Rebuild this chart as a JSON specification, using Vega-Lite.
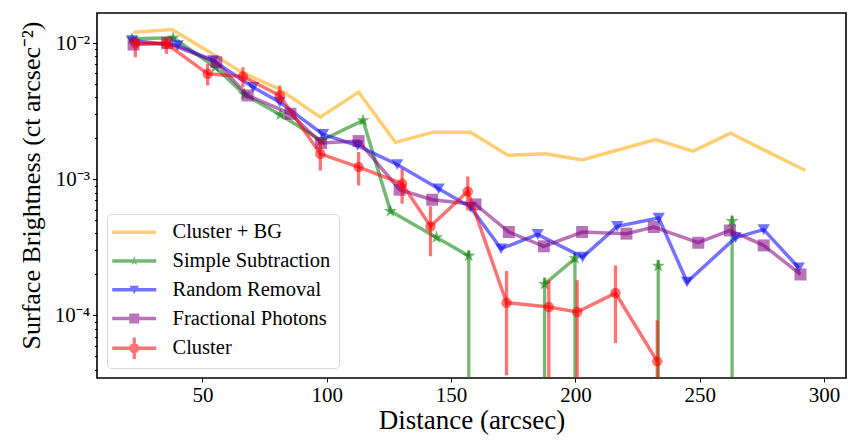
{
  "$schema": "https://vega.github.io/schema/vega-lite/v6.json",
  "width": 749,
  "height": 365,
  "autosize": {"type": "none"},
  "padding": {"left": 97, "top": 13, "right": 2, "bottom": 65},
  "background": "white",
  "config": {
    "view": {"stroke": "black", "strokeWidth": 1.6},
    "font": "Liberation Serif",
    "axis": {"grid": false, "domain": false, "tickColor": "black", "labelColor": "black", "titleColor": "black", "labelFont": "Liberation Serif", "titleFont": "Liberation Serif", "titleFontWeight": "normal"},
    "legend": {
      "orient": "bottom-left", "offset": 10,
      "labelFont": "Liberation Serif", "labelFontSize": 20.5, "labelColor": "black",
      "symbolSize": 144, "symbolOpacity": 0.55, "symbolStrokeWidth": 0,
      "rowPadding": 7.75, "padding": 8, "labelOffset": 28, "symbolOffset": 9,
      "strokeColor": "#d9d9d9", "fillColor": "rgba(255,255,255,0.85)", "cornerRadius": 4
    }
  },
  "datasets": {
    "p": [
      {"s": "Cluster + BG", "d": 22.3, "v": 0.01205},
      {"s": "Cluster + BG", "d": 37.8, "v": 0.0126},
      {"s": "Cluster + BG", "d": 51.8, "v": 0.00884},
      {"s": "Cluster + BG", "d": 65.9, "v": 0.0061},
      {"s": "Cluster + BG", "d": 80.7, "v": 0.00462},
      {"s": "Cluster + BG", "d": 97.4, "v": 0.00286},
      {"s": "Cluster + BG", "d": 112.8, "v": 0.00437},
      {"s": "Cluster + BG", "d": 127.6, "v": 0.00187},
      {"s": "Cluster + BG", "d": 142.8, "v": 0.00222},
      {"s": "Cluster + BG", "d": 157.8, "v": 0.00222},
      {"s": "Cluster + BG", "d": 172.8, "v": 0.0015},
      {"s": "Cluster + BG", "d": 187.9, "v": 0.00154},
      {"s": "Cluster + BG", "d": 202.7, "v": 0.00139},
      {"s": "Cluster + BG", "d": 217.4, "v": 0.00165},
      {"s": "Cluster + BG", "d": 232.2, "v": 0.00196},
      {"s": "Cluster + BG", "d": 247.3, "v": 0.00161},
      {"s": "Cluster + BG", "d": 262.4, "v": 0.00218},
      {"s": "Cluster + BG", "d": 277.4, "v": 0.00159},
      {"s": "Cluster + BG", "d": 292.5, "v": 0.00116},
      {"s": "Simple Subtraction", "d": 21.7, "v": 0.01077},
      {"s": "Simple Subtraction", "d": 38.2, "v": 0.01095},
      {"s": "Simple Subtraction", "d": 55.2, "v": 0.00666},
      {"s": "Simple Subtraction", "d": 66.9, "v": 0.0042},
      {"s": "Simple Subtraction", "d": 81.3, "v": 0.00298},
      {"s": "Simple Subtraction", "d": 97.8, "v": 0.00193},
      {"s": "Simple Subtraction", "d": 114.6, "v": 0.00271},
      {"s": "Simple Subtraction", "d": 125.6, "v": 0.000584},
      {"s": "Simple Subtraction", "d": 144.1, "v": 0.000374},
      {"s": "Simple Subtraction", "d": 157.1, "v": 0.000274},
      {"s": "Simple Subtraction", "d": 172.0, "v": null},
      {"s": "Simple Subtraction", "d": 187.6, "v": 0.00017},
      {"s": "Simple Subtraction", "d": 199.8, "v": 0.000262},
      {"s": "Simple Subtraction", "d": 217.0, "v": null},
      {"s": "Simple Subtraction", "d": 233.3, "v": 0.000231},
      {"s": "Simple Subtraction", "d": 248.0, "v": null},
      {"s": "Simple Subtraction", "d": 263.0, "v": 0.000493},
      {"s": "Random Removal", "d": 21.7, "v": 0.01047},
      {"s": "Random Removal", "d": 40.0, "v": 0.00962},
      {"s": "Random Removal", "d": 54.3, "v": 0.00746},
      {"s": "Random Removal", "d": 70.4, "v": 0.00475},
      {"s": "Random Removal", "d": 81.1, "v": 0.00369},
      {"s": "Random Removal", "d": 98.5, "v": 0.00214},
      {"s": "Random Removal", "d": 112.4, "v": 0.00177},
      {"s": "Random Removal", "d": 128.3, "v": 0.001286},
      {"s": "Random Removal", "d": 145.0, "v": 0.000853},
      {"s": "Random Removal", "d": 157.8, "v": 0.000625},
      {"s": "Random Removal", "d": 170.1, "v": 0.000309},
      {"s": "Random Removal", "d": 184.8, "v": 0.000394},
      {"s": "Random Removal", "d": 202.9, "v": 0.000268},
      {"s": "Random Removal", "d": 216.8, "v": 0.000451},
      {"s": "Random Removal", "d": 233.5, "v": 0.000519},
      {"s": "Random Removal", "d": 244.9, "v": 0.000176},
      {"s": "Random Removal", "d": 264.4, "v": 0.000373},
      {"s": "Random Removal", "d": 275.7, "v": 0.000427},
      {"s": "Random Removal", "d": 289.8, "v": 0.000224},
      {"s": "Fractional Photons", "d": 22.3, "v": 0.00978},
      {"s": "Fractional Photons", "d": 35.8, "v": 0.0100},
      {"s": "Fractional Photons", "d": 55.6, "v": 0.00725},
      {"s": "Fractional Photons", "d": 68.2, "v": 0.00413},
      {"s": "Fractional Photons", "d": 85.4, "v": 0.00303},
      {"s": "Fractional Photons", "d": 97.7, "v": 0.00185},
      {"s": "Fractional Photons", "d": 112.8, "v": 0.00191},
      {"s": "Fractional Photons", "d": 129.3, "v": 0.000839},
      {"s": "Fractional Photons", "d": 142.4, "v": 0.000708},
      {"s": "Fractional Photons", "d": 159.8, "v": 0.000654},
      {"s": "Fractional Photons", "d": 173.2, "v": 0.00041},
      {"s": "Fractional Photons", "d": 187.3, "v": 0.000322},
      {"s": "Fractional Photons", "d": 202.7, "v": 0.00041},
      {"s": "Fractional Photons", "d": 220.5, "v": 0.000399},
      {"s": "Fractional Photons", "d": 231.5, "v": 0.000446},
      {"s": "Fractional Photons", "d": 249.4, "v": 0.000342},
      {"s": "Fractional Photons", "d": 262.1, "v": 0.000421},
      {"s": "Fractional Photons", "d": 275.7, "v": 0.000327},
      {"s": "Fractional Photons", "d": 290.5, "v": 0.0002},
      {"s": "Cluster", "d": 23.0, "v": 0.0100},
      {"s": "Cluster", "d": 35.5, "v": 0.0099},
      {"s": "Cluster", "d": 52.1, "v": 0.00596},
      {"s": "Cluster", "d": 66.3, "v": 0.00569},
      {"s": "Cluster", "d": 81.1, "v": 0.00413},
      {"s": "Cluster", "d": 97.4, "v": 0.00154},
      {"s": "Cluster", "d": 112.8, "v": 0.00123},
      {"s": "Cluster", "d": 130.3, "v": 0.000928},
      {"s": "Cluster", "d": 141.7, "v": 0.000451},
      {"s": "Cluster", "d": 156.7, "v": 0.000815},
      {"s": "Cluster", "d": 172.3, "v": 0.000124},
      {"s": "Cluster", "d": 189.3, "v": 0.0001153},
      {"s": "Cluster", "d": 200.7, "v": 0.000106},
      {"s": "Cluster", "d": 216.1, "v": 0.000146},
      {"s": "Cluster", "d": 232.9, "v": 0.000046}
    ],
    "e": [
      {"s": "Simple Subtraction", "d": 157.1, "lo": 0.000001, "hi": 0.0003},
      {"s": "Simple Subtraction", "d": 187.6, "lo": 0.000001, "hi": 0.00019},
      {"s": "Simple Subtraction", "d": 199.8, "lo": 0.000001, "hi": 0.00029},
      {"s": "Simple Subtraction", "d": 233.3, "lo": 0.000001, "hi": 0.000255},
      {"s": "Simple Subtraction", "d": 263.0, "lo": 0.000001, "hi": 0.00054},
      {"s": "Cluster", "d": 23.0, "lo": 0.00789, "hi": 0.011},
      {"s": "Cluster", "d": 35.5, "lo": 0.00836, "hi": 0.01107},
      {"s": "Cluster", "d": 52.1, "lo": 0.00489, "hi": 0.00706},
      {"s": "Cluster", "d": 66.3, "lo": 0.00475, "hi": 0.00666},
      {"s": "Cluster", "d": 81.1, "lo": 0.00359, "hi": 0.00489},
      {"s": "Cluster", "d": 97.4, "lo": 0.00116, "hi": 0.00193},
      {"s": "Cluster", "d": 112.8, "lo": 0.000902, "hi": 0.001585},
      {"s": "Cluster", "d": 130.3, "lo": 0.000662, "hi": 0.001197},
      {"s": "Cluster", "d": 141.7, "lo": 0.000272, "hi": 0.000633},
      {"s": "Cluster", "d": 156.7, "lo": 0.000591, "hi": 0.00105},
      {"s": "Cluster", "d": 172.3, "lo": 0.0000363, "hi": 0.000212},
      {"s": "Cluster", "d": 189.3, "lo": 0.000001, "hi": 0.000181},
      {"s": "Cluster", "d": 200.7, "lo": 0.000001, "hi": 0.000181},
      {"s": "Cluster", "d": 216.1, "lo": 0.0000627, "hi": 0.000233},
      {"s": "Cluster", "d": 232.9, "lo": 0.000001, "hi": 0.000092}
    ]
  },
  "encoding": {
    "x": {
      "field": "d", "type": "quantitative",
      "scale": {"domain": [7.6, 308.8], "nice": false, "zero": false},
      "axis": {"title": "Distance (arcsec)", "values": [50, 100, 150, 200, 250, 300], "tickSize": 4, "tickWidth": 1, "labelFontSize": 21, "labelPadding": 2, "titleFontSize": 27, "titleBaseline": "alphabetic", "titleY": 50}
    },
    "y": {
      "field": "v", "type": "quantitative",
      "scale": {"type": "log", "domain": [0.0000347, 0.01667], "nice": false},
      "axis": {
        "title": "Surface Brightness (ct arcsec⁻²)",
        "values": [0.00004, 0.00005, 0.00006, 0.00007, 0.00008, 0.00009, 0.0001, 0.0002, 0.0003, 0.0004, 0.0005, 0.0006, 0.0007, 0.0008, 0.0009, 0.001, 0.002, 0.003, 0.004, 0.005, 0.006, 0.007, 0.008, 0.009, 0.01],
        "labelExpr": "datum.value == 0.01 ? '10⁻²' : datum.value == 0.001 ? '10⁻³' : datum.value == 0.0001 ? '10⁻⁴' : ''",
        "tickSize": {"condition": {"test": "datum.value == 0.01 || datum.value == 0.001 || datum.value == 0.0001", "value": 4.5}, "value": 2.5},
        "tickWidth": 1,
        "labelFontSize": 21, "labelPadding": 3,
        "titleFontSize": 26, "titleBaseline": "alphabetic", "titleX": -58, "titleY": 172
      }
    }
  },
  "layer": [
    {"data": {"name": "p"}, "transform": [{"filter": "datum.s == 'Cluster + BG'"}], "mark": {"type": "line", "color": "#FFA500", "opacity": 0.55, "strokeWidth": 3.5}},
    {"data": {"name": "p"}, "transform": [{"filter": "datum.s == 'Simple Subtraction'"}], "mark": {"type": "line", "color": "#008000", "opacity": 0.55, "strokeWidth": 3.5}},
    {"data": {"name": "e"}, "transform": [{"filter": "datum.s == 'Simple Subtraction'"}], "mark": {"type": "rule", "color": "#008000", "opacity": 0.55, "strokeWidth": 3.3, "clip": true}, "encoding": {"y": {"field": "lo", "type": "quantitative"}, "y2": {"field": "hi"}}},
    {"data": {"name": "p"}, "transform": [{"filter": "datum.s == 'Simple Subtraction' && isValid(datum.v)"}], "mark": {"type": "point", "filled": true, "color": "#008000", "opacity": 0.55, "size": 190, "strokeWidth": 0, "shape": "M0,-1L0.235,-0.324L0.951,-0.309L0.38,0.124L0.588,0.809L0,0.4L-0.588,0.809L-0.38,0.124L-0.951,-0.309L-0.235,-0.324Z"}},
    {"data": {"name": "p"}, "transform": [{"filter": "datum.s == 'Random Removal'"}], "mark": {"type": "line", "color": "#0000FF", "opacity": 0.55, "strokeWidth": 3.5}},
    {"data": {"name": "p"}, "transform": [{"filter": "datum.s == 'Random Removal'"}], "mark": {"type": "point", "filled": true, "color": "#0000FF", "opacity": 0.55, "size": 150, "strokeWidth": 0, "shape": "triangle-down"}},
    {"data": {"name": "p"}, "transform": [{"filter": "datum.s == 'Fractional Photons'"}], "mark": {"type": "line", "color": "#800080", "opacity": 0.55, "strokeWidth": 3.5}},
    {"data": {"name": "p"}, "transform": [{"filter": "datum.s == 'Fractional Photons'"}], "mark": {"type": "point", "filled": true, "color": "#800080", "opacity": 0.55, "size": 144, "strokeWidth": 0, "shape": "square"}},
    {"data": {"name": "p"}, "transform": [{"filter": "datum.s == 'Cluster'"}], "mark": {"type": "line", "color": "#FF0000", "opacity": 0.55, "strokeWidth": 3.5}},
    {"data": {"name": "e"}, "transform": [{"filter": "datum.s == 'Cluster'"}], "mark": {"type": "rule", "color": "#FF0000", "opacity": 0.55, "strokeWidth": 3.3, "clip": true}, "encoding": {"y": {"field": "lo", "type": "quantitative"}, "y2": {"field": "hi"}}},
    {"data": {"name": "p"}, "transform": [{"filter": "datum.s == 'Cluster'"}], "mark": {"type": "point", "filled": true, "color": "#FF0000", "opacity": 0.55, "size": 110, "strokeWidth": 0, "shape": "circle"}},
    {
      "data": {"name": "p"},
      "transform": [{"filter": "isValid(datum.v)"}],
      "mark": {"type": "point", "filled": true, "opacity": 0},
      "encoding": {
        "color": {
          "field": "s", "type": "nominal",
          "scale": {"domain": ["Cluster + BG", "Simple Subtraction", "Random Removal", "Fractional Photons", "Cluster"], "range": ["#FFA500", "#008000", "#0000FF", "#800080", "#FF0000"]},
          "legend": {"title": null}
        },
        "shape": {
          "field": "s", "type": "nominal",
          "scale": {"domain": ["Cluster + BG", "Simple Subtraction", "Random Removal", "Fractional Photons", "Cluster"], "range": [
            "M-3.67,-0.29H3.67V0.29H-3.67Z",
            "M-3.67,-0.29H3.67V0.29H-3.67ZM0,-0.8L0.2,-0.275L0.761,-0.247L0.323,0.105L0.47,0.647L0,0.34L-0.47,0.647L-0.323,0.105L-0.761,-0.247L-0.2,-0.275Z",
            "M-3.67,-0.29H3.67V0.29H-3.67ZM-0.8,-0.65H0.8L0,0.75Z",
            "M-3.67,-0.29H3.67V0.29H-3.67ZM-0.83,-0.83H0.83V0.83H-0.83Z",
            "M-3.67,-0.29H3.67V0.29H-3.67ZM-0.85,0A0.85,0.85 0 1,1 0.85,0A0.85,0.85 0 1,1 -0.85,0ZM-0.27,-1.8H0.27V1.8H-0.27Z"
          ]},
          "legend": {"title": null}
        }
      }
    }
  ]
}
